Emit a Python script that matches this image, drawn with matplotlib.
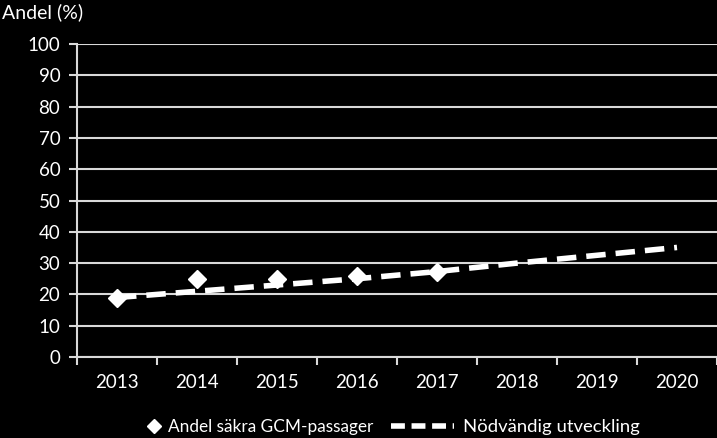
import matplotlib
matplotlib.use("Agg")
import matplotlib.pyplot as plt
from matplotlib.lines import Line2D

years = ["2013", "2014", "2015", "2016", "2017", "2018", "2019", "2020"]
actual_years = ["2013", "2014", "2015", "2016", "2017"]
actual_values = [19, 25, 25, 26, 27]
needed_values = [19, 21, 23, 25, 27.3, 30, 32.5, 35]
yticks = [0, 10, 20, 30, 40, 50, 60, 70, 80, 90, 100]

plt.rcParams['font.family'] = ['Lato', 'DejaVu Sans']

fig = plt.figure(figsize=(7.17, 4.38), dpi=100, facecolor='black')
ax = fig.add_axes([77/717, 1-357/438, 640/717, (357-44)/438])
ax.set_facecolor('black')

x_all = list(range(len(years)))
x_act = [years.index(y) for y in actual_years]

for v in yticks:
    ax.axhline(v, color='#d9d9d9', lw=1.5, zorder=1)

ax.plot(x_all, needed_values, color='white', lw=4, dashes=(3.5, 1.8), zorder=3,
        solid_capstyle='butt', dash_capstyle='butt')
ax.plot(x_act, actual_values, linestyle='none', marker='D', markersize=9,
        color='white', markeredgecolor='white', zorder=4)

ax.set_xlim(-0.5, len(years) - 0.5)
ax.set_ylim(0, 100)
ax.set_yticks(yticks)
ax.set_yticklabels([str(v) for v in yticks])
ax.set_xticks([i - 0.5 for i in range(len(years) + 1)])
ax.set_xticklabels([])
ax.set_xticks(x_all, minor=True)
ax.set_xticklabels(years, minor=True)
ax.tick_params(axis='x', which='minor', length=0, pad=12, labelsize=13.5, colors='white')
ax.tick_params(axis='x', which='major', length=6, width=1.5, color='#d9d9d9', direction='out')
ax.tick_params(axis='y', length=6, width=1.5, color='#d9d9d9', labelsize=13.5,
               labelcolor='white', pad=6)

ax.spines['top'].set_visible(False)
ax.spines['right'].set_visible(False)
ax.spines['left'].set_color('#d9d9d9')
ax.spines['left'].set_linewidth(1.5)
ax.spines['bottom'].set_color('#d9d9d9')
ax.spines['bottom'].set_linewidth(1.5)

fig.text(2/717, 1-12/438, "Andel (%)", color='white', fontsize=14, va='center', ha='left')

leg1 = fig.legend([Line2D([], [], linestyle='none', marker='D', markersize=7, color='white')],
                  ["Andel säkra GCM-passager"], loc='center left',
                  bbox_to_anchor=(147/717, 1-427/438), frameon=False, fontsize=12.4,
                  labelcolor='white', handlelength=0.8, handletextpad=0.4,
                  borderpad=0, borderaxespad=0)
leg2 = fig.legend([Line2D([], [], color='white', lw=4, dashes=(2.5, 1.2))],
                  ["Nödvändig utveckling"], loc='center right',
                  bbox_to_anchor=(640/717, 1-427/438), frameon=False, fontsize=13.3,
                  labelcolor='white', handlelength=3.4, handletextpad=0.5,
                  borderpad=0, borderaxespad=0)

fig.savefig("out.png", dpi=100, facecolor='black')
